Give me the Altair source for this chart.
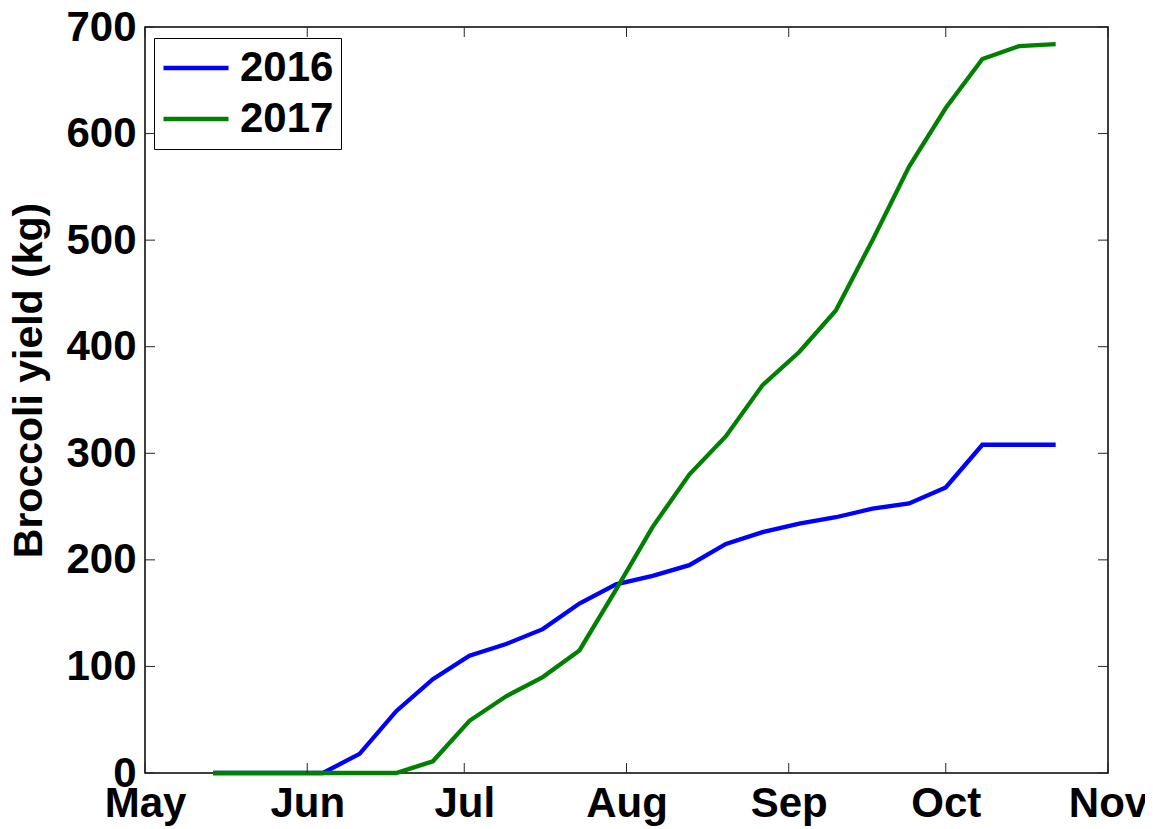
import altair as alt
import pandas as pd

# ---- data ----
dates = [
    "2016-05-14", "2016-05-21", "2016-05-28", "2016-06-04", "2016-06-11",
    "2016-06-18", "2016-06-25", "2016-07-02", "2016-07-09", "2016-07-16",
    "2016-07-23", "2016-07-30", "2016-08-06", "2016-08-13", "2016-08-20",
    "2016-08-27", "2016-09-03", "2016-09-10", "2016-09-17", "2016-09-24",
    "2016-10-01", "2016-10-08", "2016-10-15", "2016-10-22",
]
yield_2016 = [0, 0, 0, 0, 18, 58, 88, 110, 121, 135, 159, 177,
              185, 195, 215, 226, 234, 240, 248, 253, 268, 308, 308, 308]
yield_2017 = [0, 0, 0, 0, 0, 0, 11, 49, 72, 90, 115, 172,
              231, 280, 316, 364, 395, 434, 500, 569, 624, 670, 682, 684]
series = ["2016", "2017"]
colors = ["#0000ff", "#008000"]
month_ticks = ["2016-05-01", "2016-06-01", "2016-07-01", "2016-08-01",
               "2016-09-01", "2016-10-01", "2016-11-01"]
y_ticks = [0, 100, 200, 300, 400, 500, 600, 700]

FONT = "Liberation Sans"
W, H = 963, 746
TICK = 10

rows = []
for name, vals in zip(series, [yield_2016, yield_2017]):
    for d, v in zip(dates, vals):
        rows.append({"date": pd.Timestamp(d), "yield": v, "year": name})
df = pd.DataFrame(rows)
df_mt = pd.DataFrame({"date": [pd.Timestamp(m) for m in month_ticks]})
df_yt = pd.DataFrame({"yield": y_ticks})

xscale = alt.Scale(domain=[alt.DateTime(year=2016, month=5, date=1),
                           alt.DateTime(year=2016, month=11, date=1)], nice=False)
yscale = alt.Scale(domain=[0, 700], nice=False, zero=False)

xaxis = alt.Axis(
    values=[alt.DateTime(year=2016, month=m, date=1) for m in range(5, 12)],
    format="%b", title=None, grid=False, domain=False, ticks=False,
    labelFont=FONT, labelFontSize=42, labelFontWeight="bold", labelColor="black",
    labelPadding=10, labelFlush=False, labelOverlap=False, labelBound=False,
)
yaxis = alt.Axis(
    values=y_ticks, title="Broccoli yield (kg)", grid=False, domain=False, ticks=False,
    labelFont=FONT, labelFontSize=42, labelFontWeight="bold", labelColor="black",
    labelPadding=9, labelFlush=False, labelOverlap=False, labelBound=False,
    titleFont=FONT, titleFontSize=41, titleFontWeight="bold", titleColor="black",
    titlePadding=15, titleY=353,
)

lines = alt.Chart(df).mark_line(strokeWidth=4.3).encode(
    x=alt.X("date:T", scale=xscale, axis=xaxis),
    y=alt.Y("yield:Q", scale=yscale, axis=yaxis),
    color=alt.Color(
        "year:N",
        scale=alt.Scale(domain=series, range=colors),
        legend=alt.Legend(
            orient="none", legendX=9, legendY=11, title=None,
            symbolType="stroke", symbolSize=4225, symbolStrokeWidth=4.3,
            labelFont=FONT, labelFontSize=42, labelFontWeight="bold",
            labelColor="black", labelOffset=9,
            strokeColor="black", fillColor="white", padding=7,
            clipHeight=46, rowPadding=5,
        ),
    ),
)

tick_style = dict(color="#262626", strokeWidth=1)
bottom_ticks = alt.Chart(df_mt).mark_rule(**tick_style).encode(
    x=alt.X("date:T", scale=xscale, axis=xaxis),
    y=alt.value(H), y2=alt.value(H - TICK))
top_ticks = alt.Chart(df_mt).mark_rule(**tick_style).encode(
    x=alt.X("date:T", scale=xscale, axis=xaxis),
    y=alt.value(0), y2=alt.value(TICK))
left_ticks = alt.Chart(df_yt).mark_rule(**tick_style).encode(
    y=alt.Y("yield:Q", scale=yscale, axis=yaxis),
    x=alt.value(0), x2=alt.value(TICK))
right_ticks = alt.Chart(df_yt).mark_rule(**tick_style).encode(
    y=alt.Y("yield:Q", scale=yscale, axis=yaxis),
    x=alt.value(W), x2=alt.value(W - TICK))

chart = alt.layer(
    lines, bottom_ticks, top_ticks, left_ticks, right_ticks
).properties(
    width=W, height=H,
    autosize=alt.AutoSizeParams(type="none"),
    padding={"left": 137, "top": 19, "right": 37, "bottom": 56},
).configure(
    background="white"
).configure_view(
    stroke="black", strokeWidth=1.5
)

chart.save("out.html", embed_options={"renderer": "svg", "actions": False})
